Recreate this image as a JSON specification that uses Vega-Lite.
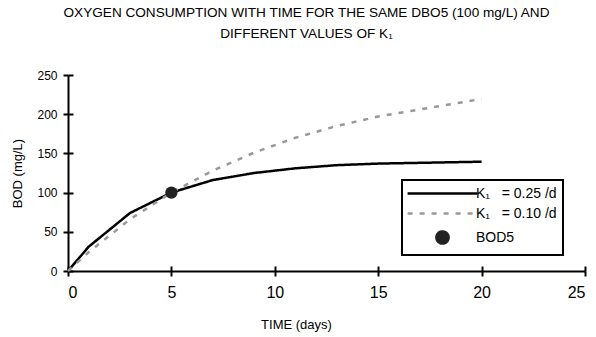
{
  "$schema": "https://vega.github.io/schema/vega-lite/v6.json",
  "width": 517,
  "height": 196,
  "autosize": {"type": "none"},
  "padding": {"left": 68, "top": 75, "right": 11, "bottom": 66},
  "background": "white",
  "title": {
    "text": ["OXYGEN CONSUMPTION WITH TIME FOR THE SAME DBO5 (100 mg/L) AND", "DIFFERENT VALUES OF K₁"],
    "font": "Liberation Sans",
    "fontSize": 13.6,
    "fontWeight": "normal",
    "color": "#000",
    "anchor": "middle",
    "dx": -20,
    "lineHeight": 21,
    "offset": 28
  },
  "data": {
    "values": [
      {"day": 0, "bod": 0, "series": "K₁\u00a0\u00a0\u00a0= 0.25 /d"},
      {"day": 1, "bod": 31, "series": "K₁\u00a0\u00a0\u00a0= 0.25 /d"},
      {"day": 3, "bod": 74, "series": "K₁\u00a0\u00a0\u00a0= 0.25 /d"},
      {"day": 5, "bod": 100, "series": "K₁\u00a0\u00a0\u00a0= 0.25 /d"},
      {"day": 7, "bod": 116, "series": "K₁\u00a0\u00a0\u00a0= 0.25 /d"},
      {"day": 9, "bod": 125, "series": "K₁\u00a0\u00a0\u00a0= 0.25 /d"},
      {"day": 11, "bod": 131, "series": "K₁\u00a0\u00a0\u00a0= 0.25 /d"},
      {"day": 13, "bod": 135, "series": "K₁\u00a0\u00a0\u00a0= 0.25 /d"},
      {"day": 15, "bod": 137, "series": "K₁\u00a0\u00a0\u00a0= 0.25 /d"},
      {"day": 20, "bod": 139.4, "series": "K₁\u00a0\u00a0\u00a0= 0.25 /d"},
      {"day": 0, "bod": 0, "series": "K₁\u00a0\u00a0\u00a0= 0.10 /d"},
      {"day": 1, "bod": 24, "series": "K₁\u00a0\u00a0\u00a0= 0.10 /d"},
      {"day": 3, "bod": 66, "series": "K₁\u00a0\u00a0\u00a0= 0.10 /d"},
      {"day": 5, "bod": 100, "series": "K₁\u00a0\u00a0\u00a0= 0.10 /d"},
      {"day": 7, "bod": 128, "series": "K₁\u00a0\u00a0\u00a0= 0.10 /d"},
      {"day": 9, "bod": 151, "series": "K₁\u00a0\u00a0\u00a0= 0.10 /d"},
      {"day": 11, "bod": 170, "series": "K₁\u00a0\u00a0\u00a0= 0.10 /d"},
      {"day": 13, "bod": 185, "series": "K₁\u00a0\u00a0\u00a0= 0.10 /d"},
      {"day": 15, "bod": 197, "series": "K₁\u00a0\u00a0\u00a0= 0.10 /d"},
      {"day": 20, "bod": 219.5, "series": "K₁\u00a0\u00a0\u00a0= 0.10 /d"},
      {"day": 5, "bod": 100, "series": "BOD5"}
    ]
  },
  "config": {
    "view": {"stroke": null},
    "axis": {
      "labelFont": "Liberation Sans",
      "titleFont": "Liberation Sans",
      "labelColor": "#000",
      "titleColor": "#000",
      "domainColor": "#000",
      "tickColor": "#000",
      "domainWidth": 2,
      "tickWidth": 2,
      "grid": false,
      "titleFontWeight": "normal"
    },
    "legend": {
      "labelFont": "Liberation Sans",
      "labelFontSize": 14,
      "labelColor": "#000"
    }
  },
  "layer": [
    {
      "transform": [{"filter": "datum.series != 'BOD5'"}],
      "mark": {"type": "line", "strokeWidth": 2.5},
      "encoding": {
        "x": {
          "field": "day", "type": "quantitative",
          "scale": {"domain": [0, 25], "nice": false},
          "axis": {"values": [0, 5, 10, 15, 20, 25], "tickSize": 5, "labelFontSize": 16, "labelPadding": 8, "title": "TIME (days)", "titleFontSize": 13, "titlePadding": 18, "titleX": 228}
        },
        "y": {
          "field": "bod", "type": "quantitative",
          "scale": {"domain": [0, 250], "nice": false},
          "axis": {"values": [0, 50, 100, 150, 200, 250], "tickSize": 5, "labelFontSize": 12, "labelPadding": 6, "title": "BOD (mg/L)", "titleFontSize": 13, "titlePadding": 12}
        },
        "color": {
          "field": "series", "type": "nominal",
          "scale": {"domain": ["K₁\u00a0\u00a0\u00a0= 0.25 /d", "K₁\u00a0\u00a0\u00a0= 0.10 /d", "BOD5"], "range": ["#000000", "#999999", "#222222"]},
          "legend": {
            "title": null,
            "orient": "none",
            "legendX": 334,
            "legendY": 105,
            "strokeColor": "#000",
            "padding": 6,
            "rowPadding": 5,
            "symbolStrokeWidth": 2.5,
            "symbolSize": 150,
            "symbolOffset": 27,
            "labelOffset": 26,
            "encode": {"legend": {"update": {"strokeWidth": {"value": 2}}}}
          }
        },
        "strokeDash": {
          "field": "series", "type": "nominal",
          "scale": {"domain": ["K₁\u00a0\u00a0\u00a0= 0.25 /d", "K₁\u00a0\u00a0\u00a0= 0.10 /d", "BOD5"], "range": [[1, 0], [5, 7], [1, 0]]},
          "legend": {"title": null}
        }
      }
    },
    {
      "transform": [{"filter": "datum.series == 'BOD5'"}],
      "mark": {"type": "point", "filled": true, "opacity": 1, "size": 150},
      "encoding": {
        "x": {
          "field": "day", "type": "quantitative",
          "axis": {"orient": "bottom", "values": [0, 5, 10, 15, 20, 25], "tickSize": 5, "offset": -5, "domain": false, "labels": false, "title": null}
        },
        "y": {
          "field": "bod", "type": "quantitative",
          "axis": {"orient": "left", "values": [0, 50, 100, 150, 200, 250], "tickSize": 5, "offset": -5, "domain": false, "labels": false, "title": null}
        },
        "color": {"field": "series", "type": "nominal"},
        "shape": {
          "field": "series", "type": "nominal",
          "scale": {"domain": ["K₁\u00a0\u00a0\u00a0= 0.25 /d", "K₁\u00a0\u00a0\u00a0= 0.10 /d", "BOD5"], "range": ["M-5.7,0H5.7", "M-5.7,0H5.7", "circle"]},
          "legend": {"title": null}
        }
      }
    }
  ],
  "resolve": {"axis": {"x": "independent", "y": "independent"}}
}
